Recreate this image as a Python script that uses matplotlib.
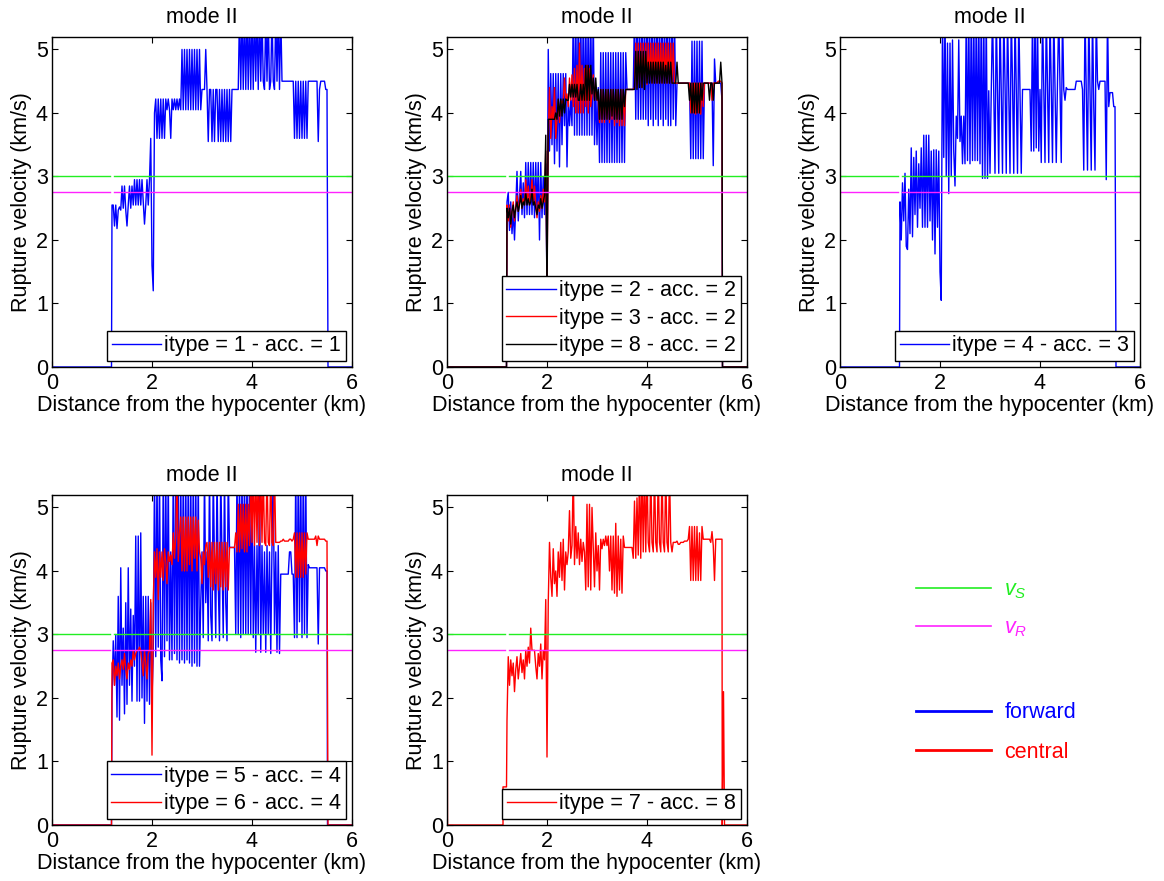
import numpy as np
import matplotlib
matplotlib.use('Agg')
import matplotlib.pyplot as plt
from matplotlib.lines import Line2D

plt.rcParams['font.family'] = ['Liberation Sans', 'DejaVu Sans']
plt.rcParams['mathtext.fontset'] = 'custom'
plt.rcParams['mathtext.it'] = 'Liberation Sans:italic'
plt.rcParams['mathtext.rm'] = 'Liberation Sans'

vs = 3.0          # S-wave speed (km/s)
vr = 2.75         # Rayleigh speed (km/s)
vp = 5.196        # P-wave speed, top of the plots
gap = (1.16, 1.24)  # where the vs/vR lines are interrupted

# sampling grid of the rupture front between 1.2 and 5.5 km
dist = np.round(np.arange(1.2, 5.5001, 0.025), 3)

# ---- itype 1 (forward), acc. 1
v_it1 = [2.55, 2.55, 2.22, 2.55, 2.18, 2.47, 2.52, 2.47, 2.85, 2.5, 2.85, 2.47, 2.22, 2.55, 2.85, 2.5, 2.85, 2.55, 2.95, 2.55,
         2.95, 2.55, 2.95, 2.55, 2.95, 2.6, 2.25, 2.55, 2.95, 2.55, 2.95, 3.6, 1.6, 1.2, 4.0, 4.22, 3.6, 4.22, 3.6, 4.22,
         3.6, 4.22, 3.6, 4.22, 4.05, 4.22, 4.05, 3.6, 4.22, 4.05, 4.22, 4.05, 4.22, 4.05, 4.22, 4.05, 5.0, 4.05, 5.0, 4.05,
         5.0, 4.05, 5.0, 4.05, 5.0, 4.05, 5.0, 4.05, 5.0, 4.05, 5.0, 4.05, 4.37, 4.37, 4.37, 5.0, 4.37, 3.55, 4.37, 4.37,
         3.55, 4.37, 3.55, 4.37, 4.37, 3.55, 4.37, 3.55, 4.37, 3.55, 4.37, 3.55, 4.37, 3.55, 4.37, 3.55, 4.37, 4.37, 4.37, 4.37,
         4.37, 4.37, 5.6, 4.37, 5.6, 4.37, 5.6, 4.37, 5.6, 4.37, 5.6, 4.37, 5.6, 4.37, 5.6, 4.5, 5.6, 4.37, 5.6, 4.5,
         5.6, 4.5, 4.37, 5.6, 4.5, 5.6, 4.37, 4.5, 5.6, 4.5, 4.37, 5.6, 4.5, 5.6, 4.37, 5.6, 4.5, 4.5, 4.5, 4.5,
         4.5, 4.5, 4.5, 4.5, 4.5, 4.5, 3.6, 4.5, 3.6, 4.5, 3.6, 4.5, 3.6, 4.5, 3.6, 4.5, 3.6, 4.5, 4.5, 4.5,
         4.5, 4.5, 4.5, 4.5, 4.5, 3.55, 4.37, 4.5, 4.5, 4.5, 4.5, 4.37, 4.37]
head_it1 = ([0, 0.005, 1.19], [5.6, 0, 0])
tail_it1 = ([5.52, 6], [0, 0])

# ---- itype 2 (forward), acc. 2
v_it2 = [2.6, 2.75, 2.15, 2.6, 2.1, 2.45, 2.0, 2.5, 3.08, 2.3, 2.7, 3.08, 2.4, 2.9, 2.35, 3.22, 2.4, 3.22, 2.4, 3.22,
         2.4, 3.22, 2.35, 3.22, 2.4, 3.22, 2.0, 3.22, 2.35, 3.0, 2.4, 3.2, 1.2, 5.0, 3.4, 4.62, 3.5, 4.62, 3.2, 4.62,
         3.4, 4.62, 3.15, 4.62, 3.5, 4.62, 3.8, 4.62, 3.15, 4.2, 3.8, 4.2, 3.8, 5.6, 3.65, 5.6, 3.65, 5.6, 3.65, 5.6,
         3.65, 5.6, 3.65, 5.6, 3.65, 5.6, 3.65, 5.6, 3.65, 5.6, 3.5, 4.4, 3.5, 4.4, 3.22, 4.95, 3.22, 4.95, 3.22, 4.95,
         3.22, 4.95, 3.22, 4.95, 3.22, 4.95, 3.22, 4.95, 3.22, 4.95, 3.22, 4.95, 3.22, 4.95, 3.22, 4.95, 4.37, 4.37, 4.37, 4.37,
         4.37, 4.37, 5.6, 3.9, 5.6, 3.9, 5.6, 3.9, 5.6, 3.9, 5.6, 3.9, 5.6, 3.8, 5.6, 3.9, 5.6, 3.8, 5.6, 3.9,
         5.6, 3.8, 5.6, 3.9, 5.6, 3.8, 5.6, 3.9, 5.6, 3.8, 5.6, 3.8, 5.6, 3.9, 5.6, 3.8, 4.47, 4.47, 4.47, 4.47,
         4.47, 4.47, 4.47, 4.47, 4.47, 4.47, 4.47, 3.28, 5.13, 3.28, 5.13, 3.28, 5.13, 3.28, 5.13, 3.28, 5.13, 3.28, 4.47, 4.47,
         4.47, 4.47, 4.47, 4.47, 4.47, 3.17, 4.85, 4.47, 4.47, 4.47, 4.47, 4.47, 4.2]
head_it2 = ([0, 0.005, 1.19], [5.6, 0, 0])
tail_it2 = ([5.51, 6], [0, 0])

# ---- itype 3 (central), acc. 2
v_it3 = [2.55, 2.3, 2.55, 2.2, 2.45, 2.6, 2.3, 2.5, 2.7, 2.45, 2.6, 2.8, 2.5, 2.65, 2.55, 2.95, 2.6, 2.85, 2.55, 2.7,
         2.95, 2.6, 2.85, 2.55, 2.35, 2.6, 2.45, 2.7, 2.5, 2.8, 2.6, 3.4, 1.3, 3.6, 4.4, 3.6, 4.1, 3.9, 4.4, 3.6,
         3.9, 4.2, 3.85, 4.2, 4.15, 4.2, 4.55, 4.2, 4.3, 4.1, 4.55, 4.2, 4.6, 4.1, 4.7, 4.0, 4.75, 4.0, 5.1, 4.0,
         4.75, 4.0, 4.7, 4.1, 4.75, 4.0, 4.7, 4.1, 4.3, 4.6, 4.2, 4.4, 4.2, 4.2, 3.85, 4.37, 3.85, 4.37, 3.85, 4.37,
         3.9, 4.37, 3.85, 4.37, 3.9, 4.37, 3.8, 4.37, 3.85, 4.37, 3.8, 4.37, 3.8, 4.37, 3.8, 4.37, 4.37, 4.37, 4.37, 4.37,
         4.37, 4.37, 4.4, 5.1, 4.4, 5.1, 4.45, 5.1, 4.4, 5.1, 4.5, 5.1, 4.45, 5.1, 4.5, 5.1, 4.47, 5.1, 4.47, 5.1,
         4.47, 5.1, 4.47, 5.1, 4.47, 5.1, 4.47, 5.1, 4.47, 5.1, 4.47, 5.1, 4.47, 5.1, 4.47, 4.47, 4.47, 4.47, 4.47, 4.47,
         4.47, 4.47, 4.47, 4.47, 4.47, 4.47, 4.47, 4.0, 4.47, 4.0, 4.47, 3.98, 4.47, 4.0, 4.47, 3.98, 4.47, 4.1, 4.47, 4.47,
         4.47, 4.47, 4.47, 4.47, 4.2, 4.47, 4.47, 4.47, 4.47, 4.5, 4.5, 4.5, 4.47]
head_it3 = ([0, 1.19], [0, 0])
tail_it3 = ([5.51, 6], [0, 0])

# ---- itype 8 (central), acc. 2
v_it8 = [2.5, 2.35, 2.5, 2.25, 2.45, 2.55, 2.35, 2.5, 2.6, 2.45, 2.55, 2.7, 2.5, 2.6, 2.55, 2.75, 2.55, 2.65, 2.55, 2.6,
         2.8, 2.55, 2.6, 2.5, 2.4, 2.55, 2.5, 2.65, 2.5, 2.6, 2.7, 3.65, 1.0, 3.9, 3.9, 3.9, 3.9, 3.9, 3.9, 4.0,
         3.9, 4.22, 3.95, 4.22, 3.95, 4.22, 4.0, 4.22, 4.2, 4.2, 4.45, 4.25, 4.45, 4.25, 4.45, 4.25, 4.45, 4.2, 4.2, 4.45,
         4.2, 4.45, 4.2, 4.75, 4.2, 4.75, 4.2, 4.75, 4.3, 4.55, 4.2, 4.55, 4.2, 4.37, 3.9, 4.37, 3.9, 4.37, 3.9, 4.37,
         3.9, 4.37, 3.9, 4.37, 3.95, 4.37, 3.9, 4.37, 3.9, 4.37, 3.9, 4.37, 3.9, 4.37, 4.1, 4.37, 4.37, 4.37, 4.37, 4.37,
         4.37, 4.37, 4.37, 4.97, 4.37, 4.97, 4.4, 4.97, 4.4, 4.97, 4.37, 4.97, 4.47, 4.8, 4.47, 4.8, 4.47, 4.8, 4.47, 4.8,
         4.47, 4.8, 4.47, 4.8, 4.47, 4.8, 4.47, 4.75, 4.47, 4.8, 4.47, 4.8, 4.47, 4.47, 4.47, 4.47, 4.8, 4.47, 4.47, 4.47,
         4.47, 4.47, 4.47, 4.47, 4.47, 4.47, 4.2, 4.47, 4.0, 4.47, 4.0, 4.47, 4.0, 4.47, 4.0, 4.47, 4.2, 4.47, 4.47, 4.47,
         4.47, 4.47, 4.2, 4.47, 4.47, 4.2, 4.47, 4.47, 4.47, 4.47, 4.47, 4.8, 4.47]
head_it8 = ([0, 1.19], [0, 0])
tail_it8 = ([5.51, 6], [0, 0])

# ---- itype 4 (forward), acc. 3
v_it4 = [2.6, 2.0, 2.9, 2.3, 3.05, 1.9, 1.85, 2.8, 2.1, 3.45, 2.05, 3.3, 2.4, 3.4, 2.2, 3.2, 2.5, 3.45, 2.2, 3.65,
         2.2, 3.65, 2.2, 3.65, 2.3, 3.4, 2.0, 3.42, 1.78, 3.42, 2.2, 3.4, 1.5, 1.05, 5.6, 3.3, 5.6, 3.0, 5.1, 2.73,
         5.1, 3.0, 5.15, 3.4, 2.85, 3.95, 3.6, 5.15, 3.55, 3.95, 3.2, 3.95, 3.2, 5.6, 3.25, 5.6, 3.2, 5.6, 3.25, 5.6,
         3.25, 5.6, 3.25, 5.6, 3.2, 5.6, 2.97, 5.6, 2.97, 5.6, 2.97, 4.35, 3.05, 4.35, 5.6, 4.35, 3.05, 5.6, 4.35, 3.05,
         5.6, 4.35, 3.05, 5.6, 4.5, 3.05, 5.6, 4.35, 3.05, 5.6, 4.5, 3.05, 5.6, 4.4, 3.05, 5.6, 4.35, 3.05, 4.37, 4.37,
         4.37, 4.37, 4.37, 4.37, 4.37, 3.4, 5.6, 3.4, 5.6, 3.45, 5.6, 3.4, 4.37, 3.22, 5.6, 4.4, 3.22, 5.6, 4.37, 3.22,
         5.6, 4.37, 3.22, 5.6, 4.37, 3.22, 4.5, 5.6, 4.37, 3.22, 5.6, 4.37, 4.2, 4.4, 4.37, 4.37, 4.37, 4.37, 4.37, 4.37,
         4.37, 4.5, 4.5, 4.5, 4.5, 4.5, 4.37, 3.1, 5.6, 4.37, 3.1, 5.6, 4.37, 3.1, 5.6, 4.1, 3.1, 5.6, 4.5, 4.37,
         4.5, 4.5, 4.5, 4.5, 4.5, 2.95, 5.6, 4.1, 4.32, 4.32, 4.32, 4.1, 4.1]
head_it4 = ([0, 0.005, 1.19], [5.6, 0, 0])
tail_it4 = ([5.52, 6], [0, 0])

# ---- itype 5 (forward), acc. 4
v_it5 = [2.0, 2.9, 2.2, 3.0, 1.7, 3.6, 1.65, 4.05, 2.2, 3.1, 1.75, 3.5, 1.9, 4.05, 2.2, 3.4, 1.95, 3.3, 2.5, 4.55,
         1.95, 4.55, 1.95, 4.6, 2.0, 3.6, 1.6, 3.6, 1.95, 3.6, 1.9, 3.5, 2.0, 2.7, 5.6, 2.65, 5.6, 2.8, 5.6, 2.6,
         2.27, 5.6, 2.65, 5.6, 2.9, 5.6, 2.6, 4.3, 2.6, 5.6, 2.7, 5.6, 2.6, 5.6, 2.55, 5.6, 2.6, 5.6, 2.55, 5.6,
         2.6, 5.6, 2.55, 5.6, 2.5, 5.6, 2.55, 5.6, 2.5, 5.6, 2.5, 3.5, 4.3, 2.95, 5.6, 3.5, 4.3, 2.9, 5.6, 3.3,
         2.9, 5.6, 4.1, 2.95, 5.6, 3.8, 2.9, 5.6, 4.2, 2.95, 5.6, 3.5, 2.9, 5.6, 4.37, 4.37, 4.37, 4.37, 4.37, 3.0,
         5.6, 3.0, 5.6, 2.95, 5.6, 3.0, 5.6, 3.0, 5.6, 3.0, 5.6, 3.0, 5.6, 2.95, 4.4, 2.72, 4.4, 3.0, 5.6, 2.72,
         4.4, 3.0, 4.3, 2.72, 4.4, 3.0, 4.3, 2.7, 4.4, 5.6, 3.0, 4.3, 2.72, 4.4, 2.7, 3.95, 3.95, 3.95, 3.95, 3.95,
         3.95, 3.95, 4.3, 4.3, 3.95, 3.95, 2.95, 5.6, 2.95, 5.6, 3.2, 5.6, 2.95, 5.6, 3.0, 5.6, 2.95, 4.1, 4.05, 4.05,
         4.05, 4.05, 4.05, 4.05, 4.05, 2.85, 4.05, 4.05, 4.05, 4.05, 4.05, 4.0, 4.0]
head_it5 = ([0, 1.19], [0, 0])
tail_it5 = ([5.51, 6], [0, 0])

# ---- itype 6 (central), acc. 4
v_it6 = [2.55, 2.6, 2.2, 2.5, 2.35, 2.55, 2.3, 2.5, 2.6, 2.45, 2.7, 2.45, 2.3, 2.55, 2.45, 2.6, 2.5, 2.75, 2.6, 2.7,
         2.75, 2.75, 2.8, 2.75, 2.55, 2.35, 2.75, 2.55, 2.3, 2.7, 2.75, 3.55, 1.1, 3.5, 4.3, 3.9, 4.35, 3.55, 4.3, 3.9,
         4.3, 3.85, 4.35, 4.15, 3.8, 4.3, 4.15, 4.25, 4.1, 4.6, 4.2, 4.55, 5.6, 4.15, 4.6, 4.85, 4.0, 4.85, 4.0, 4.85,
         4.0, 4.85, 4.1, 4.85, 4.0, 4.85, 4.2, 4.85, 4.0, 4.8, 4.3, 4.2, 3.8, 4.3, 4.1, 4.4, 4.45, 3.9, 4.45, 3.75,
         4.45, 3.7, 4.45, 3.8, 4.45, 3.7, 4.45, 3.75, 4.45, 3.7, 4.45, 3.75, 4.45, 3.7, 4.37, 4.37, 4.37, 4.37, 4.37, 4.6,
         4.3, 5.05, 4.3, 5.05, 4.35, 5.05, 4.3, 5.05, 4.3, 5.05, 4.4, 5.6, 4.45, 5.6, 4.4, 5.6, 4.45, 5.6, 4.4, 5.6,
         4.45, 5.6, 4.45, 4.4, 5.6, 4.45, 4.4, 5.6, 4.45, 4.4, 5.6, 4.45, 4.45, 4.45, 4.45, 4.47, 4.47, 4.5, 4.47, 4.47,
         4.47, 4.47, 4.5, 4.5, 4.47, 4.5, 4.6, 3.9, 4.6, 3.9, 4.6, 3.9, 4.6, 3.9, 4.6, 3.95, 4.6, 4.5, 4.5, 4.5,
         4.5, 4.5, 4.5, 4.55, 4.4, 4.55, 4.5, 4.5, 4.5, 4.5, 4.5, 4.47, 4.47]
head_it6 = ([0, 0.005, 1.19], [5.6, 0, 0])
tail_it6 = ([5.52, 6], [0, 0])

# ---- itype 7 (central), acc. 8
v_it7 = [1.65, 2.65, 2.2, 2.6, 2.35, 2.55, 2.1, 2.45, 2.65, 2.3, 2.5, 2.7, 2.4, 2.6, 2.3, 2.75, 2.5, 2.8, 2.55, 3.1,
         2.75, 2.75, 2.75, 2.5, 2.3, 2.7, 2.5, 2.85, 2.3, 2.75, 2.6, 3.55, 1.07, 3.5, 4.45, 3.9, 3.6, 4.35, 3.8, 4.0,
         3.6, 4.3, 3.9, 4.45, 3.85, 4.5, 3.7, 4.3, 4.1, 4.3, 4.95, 4.2, 4.4, 5.6, 4.1, 4.7, 4.2, 4.6, 4.1, 4.5,
         4.15, 4.45, 4.3, 3.7, 5.05, 3.75, 5.05, 3.7, 5.0, 4.4, 3.75, 4.6, 4.0, 4.4, 3.7, 4.5, 4.35, 4.5, 4.4, 4.55,
         4.4, 4.55, 4.0, 4.55, 3.7, 4.55, 3.65, 4.75, 3.6, 4.55, 3.7, 4.5, 3.65, 4.55, 4.37, 4.37, 4.37, 4.37, 4.37, 4.37,
         4.37, 4.2, 5.1, 4.2, 5.15, 4.25, 5.6, 4.2, 5.6, 4.3, 5.6, 4.3, 5.6, 4.45, 4.3, 5.6, 4.45, 4.3, 5.6, 4.45,
         4.3, 5.6, 4.45, 4.3, 5.6, 4.45, 4.3, 5.6, 4.45, 4.3, 5.6, 4.45, 4.3, 4.45, 4.45, 4.45, 4.47, 4.42, 4.42, 4.45,
         4.45, 4.45, 4.47, 4.47, 4.47, 4.5, 4.7, 3.85, 4.7, 3.85, 4.7, 3.85, 4.7, 3.85, 4.6, 3.85, 4.7, 4.5, 4.5, 4.5,
         4.5, 4.5, 4.5, 4.45, 4.62, 4.4, 3.85, 4.5, 4.5, 4.5, 4.5, 4.5, 4.5]
head_it7 = ([0, 0.01, 1.12, 1.12, 1.19], [5.6, 0, 0, 0.6, 0.6])
tail_it7 = ([5.505, 5.53, 5.55, 6], [0, 2.1, 0, 0])

for v in (v_it1, v_it2, v_it3, v_it8, v_it4, v_it5, v_it6, v_it7):
    assert len(v) == len(dist), len(v)


def series(head, v, tail):
    x = np.concatenate([head[0], dist, tail[0]])
    y = np.concatenate([head[1], v, tail[1]])
    return x, y


panels = [
    [(head_it1, v_it1, tail_it1, 'blue', 'itype = 1 - acc. = 1')],
    [(head_it2, v_it2, tail_it2, 'blue', 'itype = 2 - acc. = 2'),
     (head_it3, v_it3, tail_it3, 'red', 'itype = 3 - acc. = 2'),
     (head_it8, v_it8, tail_it8, 'black', 'itype = 8 - acc. = 2')],
    [(head_it4, v_it4, tail_it4, 'blue', 'itype = 4 - acc. = 3')],
    [(head_it5, v_it5, tail_it5, 'blue', 'itype = 5 - acc. = 4'),
     (head_it6, v_it6, tail_it6, 'red', 'itype = 6 - acc. = 4')],
    [(head_it7, v_it7, tail_it7, 'red', 'itype = 7 - acc. = 8')],
]

W, H = 1164, 881
FS = 15.5
fig = plt.figure(figsize=(W / 100, H / 100), dpi=100)
lefts = [52, 447, 840]
tops = [37, 495]
green = '#22ee22'
magenta = '#ff22ff'

for k, curves in enumerate(panels):
    r, c = divmod(k, 3)
    ax = fig.add_axes([lefts[c] / W, (H - tops[r] - 330) / H, 300 / W, 330 / H])
    for head, v, tail, col, lab in curves:
        x, y = series(head, v, tail)
        ax.plot(x, y, color=col, lw=1.0, label=lab)
    for lvl, col in ((vs, green), (vr, magenta)):
        ax.plot([0, gap[0]], [lvl, lvl], color=col, lw=1.0)
        ax.plot([gap[1], 6], [lvl, lvl], color=col, lw=1.0)
    ax.set_xlim(0, 6)
    ax.set_ylim(0, vp)
    ax.set_xticks([0, 2, 4, 6])
    ax.set_yticks([0, 1, 2, 3, 4, 5])
    ax.tick_params(direction='in', top=True, right=True, length=4, width=0.8,
                   labelsize=FS)
    ax.tick_params(axis='x', pad=4.5)
    ax.tick_params(axis='y', pad=3)
    for s in ax.spines.values():
        s.set_linewidth(1.0)
    ax.set_title('mode II', fontsize=FS, pad=10)
    ax.set_xlabel('Distance from the hypocenter (km)', fontsize=FS, labelpad=0.5)
    ax.set_ylabel('Rupture velocity (km/s)', fontsize=FS, labelpad=3)
    leg = ax.legend(loc='lower right', fontsize=FS, fancybox=False, framealpha=1,
                    edgecolor='black', handlelength=2.3, handletextpad=0.15,
                    borderpad=0.2, labelspacing=0.3, borderaxespad=0.3)
    leg.get_frame().set_linewidth(1.0)
    for ln in leg.get_lines():
        ln.set_linewidth(1.0)

# key in the empty sixth slot
h1 = [Line2D([], [], color=green, lw=1.2), Line2D([], [], color=magenta, lw=1.2)]
fig.legend(h1, ['$v_S$', '$v_R$'], loc='center left', bbox_to_anchor=(916 / W, 1 - 609 / H),
           frameon=False, fontsize=FS, handlelength=3.5, handletextpad=0.6,
           labelcolor='linecolor', borderpad=0, borderaxespad=0, labelspacing=0.75)
h2 = [Line2D([], [], color='blue', lw=2), Line2D([], [], color='red', lw=2)]
fig.legend(h2, ['forward', 'central'], loc='center left', bbox_to_anchor=(916 / W, 1 - 732.5 / H),
           frameon=False, fontsize=FS, handlelength=3.5, handletextpad=0.6,
           labelcolor='linecolor', borderpad=0, borderaxespad=0, labelspacing=0.85)

fig.savefig('out.png', dpi=100, facecolor='white')
